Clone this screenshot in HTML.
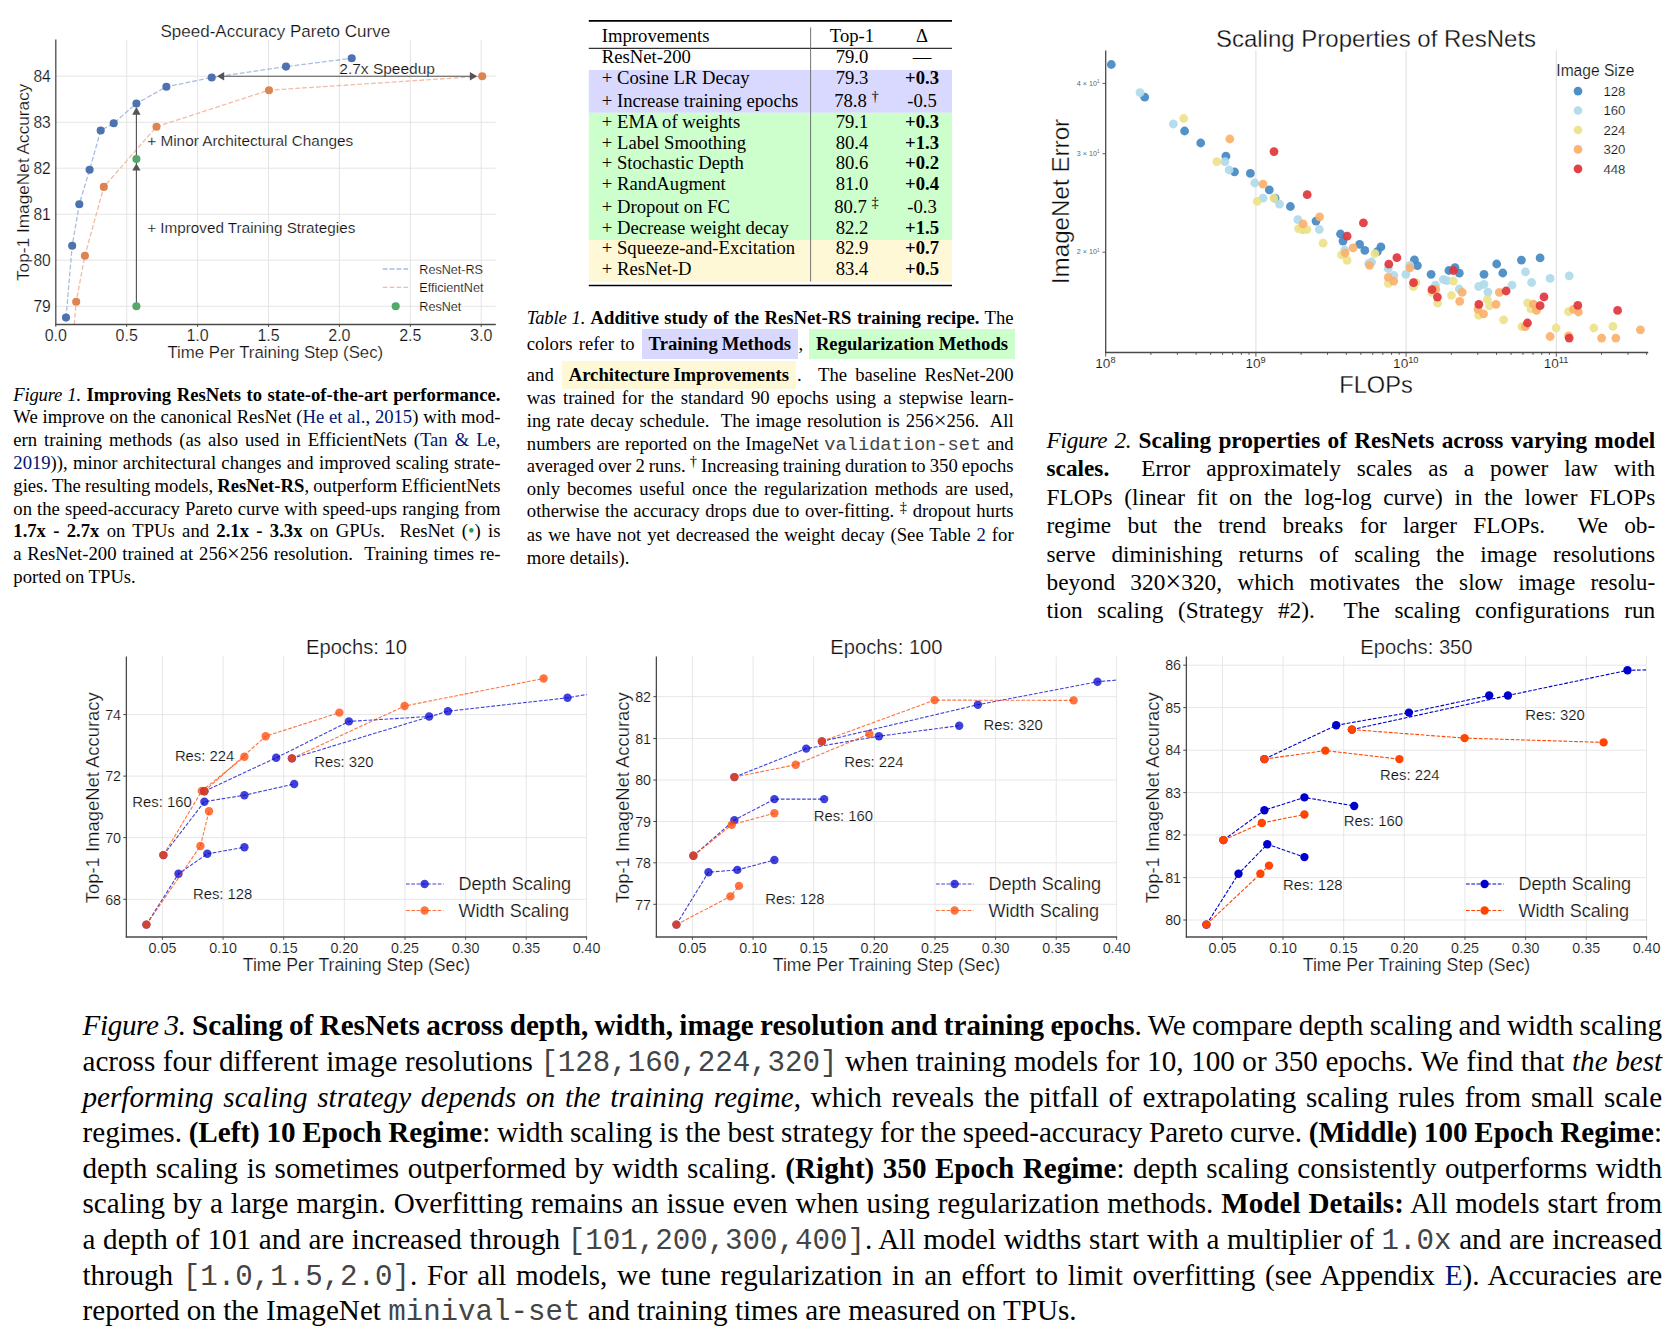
<!DOCTYPE html>
<html><head><meta charset="utf-8"><title>ResNet-RS figures</title>
<style>
html,body{margin:0;padding:0;background:#fff;}
body{width:1678px;height:1334px;position:relative;overflow:hidden;font-family:"Liberation Serif",serif;color:#000;}
.l{position:absolute;white-space:nowrap;line-height:1em;height:1em;}
.a{color:#001473;}
.tt{font-family:"Liberation Mono",monospace;font-size:1.0em;color:#444;}
.sup{position:relative;top:-0.40em;font-size:0.78em;line-height:0;}
.hl{position:absolute;}
.x{font-size:1.22em;line-height:0;position:relative;top:0.04em;}
svg{position:absolute;left:0;top:0;}
svg text{font-family:"Liberation Sans",sans-serif;stroke:#fff;stroke-width:0.012em;}
i{font-style:italic;} i.lb{letter-spacing:-0.012em;} b{font-weight:bold;}
</style></head><body>
<svg width="1678" height="1334" viewBox="0 0 1678 1334">
<line x1="126.70" y1="39.50" x2="126.70" y2="324.50" stroke="#e4e4e4" stroke-width="1.00"/>
<line x1="197.60" y1="39.50" x2="197.60" y2="324.50" stroke="#e4e4e4" stroke-width="1.00"/>
<line x1="268.50" y1="39.50" x2="268.50" y2="324.50" stroke="#e4e4e4" stroke-width="1.00"/>
<line x1="339.40" y1="39.50" x2="339.40" y2="324.50" stroke="#e4e4e4" stroke-width="1.00"/>
<line x1="410.30" y1="39.50" x2="410.30" y2="324.50" stroke="#e4e4e4" stroke-width="1.00"/>
<line x1="481.20" y1="39.50" x2="481.20" y2="324.50" stroke="#e4e4e4" stroke-width="1.00"/>
<line x1="55.80" y1="306.20" x2="495.80" y2="306.20" stroke="#e4e4e4" stroke-width="1.00"/>
<line x1="55.80" y1="260.20" x2="495.80" y2="260.20" stroke="#e4e4e4" stroke-width="1.00"/>
<line x1="55.80" y1="214.20" x2="495.80" y2="214.20" stroke="#e4e4e4" stroke-width="1.00"/>
<line x1="55.80" y1="168.20" x2="495.80" y2="168.20" stroke="#e4e4e4" stroke-width="1.00"/>
<line x1="55.80" y1="122.20" x2="495.80" y2="122.20" stroke="#e4e4e4" stroke-width="1.00"/>
<line x1="55.80" y1="76.20" x2="495.80" y2="76.20" stroke="#e4e4e4" stroke-width="1.00"/>
<polyline points="66.0,317.6 72.2,245.7 79.3,204.2 89.6,169.8 100.7,130.5 113.7,123.3 136.4,103.5 166.4,86.8 211.7,77.5 286.0,66.6 351.7,58.3" fill="none" stroke="#a9bde0" stroke-width="1.30" stroke-dasharray="4.8 2.1"/>
<polyline points="74.2,324.5 76.2,301.8 84.9,255.7 103.8,186.9 156.5,126.7 269.0,90.2 482.2,76.2" fill="none" stroke="#f2bda4" stroke-width="1.30" stroke-dasharray="4.8 2.1"/>
<line x1="136.40" y1="306.20" x2="136.40" y2="110.00" stroke="#555555" stroke-width="1.15"/>
<line x1="220.00" y1="76.20" x2="474.00" y2="76.20" stroke="#555555" stroke-width="1.15"/>
<path d="M136.4 107 L140.6 114.8 L132.2 114.8 Z" fill="#555555"/>
<path d="M136.4 163.4 L140.6 170.6 L132.2 170.6 Z" fill="#555555"/>
<path d="M216.9 76.2 L224.2 72 L224.2 80.4 Z" fill="#555555"/>
<path d="M477.2 76.2 L469.9 72 L469.9 80.4 Z" fill="#555555"/>
<circle cx="66.0" cy="317.6" r="4.05" fill="#4c72b0"/>
<circle cx="72.2" cy="245.7" r="4.05" fill="#4c72b0"/>
<circle cx="79.3" cy="204.2" r="4.05" fill="#4c72b0"/>
<circle cx="89.6" cy="169.8" r="4.05" fill="#4c72b0"/>
<circle cx="100.7" cy="130.5" r="4.05" fill="#4c72b0"/>
<circle cx="113.7" cy="123.3" r="4.05" fill="#4c72b0"/>
<circle cx="136.4" cy="103.5" r="4.05" fill="#4c72b0"/>
<circle cx="166.4" cy="86.8" r="4.05" fill="#4c72b0"/>
<circle cx="211.7" cy="77.5" r="4.05" fill="#4c72b0"/>
<circle cx="286.0" cy="66.6" r="4.05" fill="#4c72b0"/>
<circle cx="351.7" cy="58.3" r="4.05" fill="#4c72b0"/>
<circle cx="76.2" cy="301.8" r="4.05" fill="#dd8452"/>
<circle cx="84.9" cy="255.7" r="4.05" fill="#dd8452"/>
<circle cx="103.8" cy="186.9" r="4.05" fill="#dd8452"/>
<circle cx="156.5" cy="126.7" r="4.05" fill="#dd8452"/>
<circle cx="269.0" cy="90.2" r="4.05" fill="#dd8452"/>
<circle cx="482.2" cy="76.2" r="4.05" fill="#dd8452"/>
<circle cx="136.4" cy="159.0" r="4.05" fill="#55a868"/>
<circle cx="136.4" cy="306.2" r="4.05" fill="#55a868"/>
<line x1="55.80" y1="39.50" x2="55.80" y2="325.10" stroke="#4a4a4a" stroke-width="1.30"/>
<line x1="55.20" y1="324.50" x2="495.80" y2="324.50" stroke="#4a4a4a" stroke-width="1.30"/>
<text x="275.30" y="37.30" font-size="17.00" text-anchor="middle" fill="#101010">Speed-Accuracy Pareto Curve</text>
<text x="50.80" y="311.90" font-size="15.60" text-anchor="end" fill="#101010">79</text>
<text x="50.80" y="265.90" font-size="15.60" text-anchor="end" fill="#101010">80</text>
<text x="50.80" y="219.90" font-size="15.60" text-anchor="end" fill="#101010">81</text>
<text x="50.80" y="173.90" font-size="15.60" text-anchor="end" fill="#101010">82</text>
<text x="50.80" y="127.90" font-size="15.60" text-anchor="end" fill="#101010">83</text>
<text x="50.80" y="81.90" font-size="15.60" text-anchor="end" fill="#101010">84</text>
<text x="55.80" y="341.30" font-size="16.00" text-anchor="middle" fill="#101010">0.0</text>
<line x1="55.80" y1="324.50" x2="55.80" y2="326.90" stroke="#4a4a4a" stroke-width="1.00"/>
<text x="126.70" y="341.30" font-size="16.00" text-anchor="middle" fill="#101010">0.5</text>
<line x1="126.70" y1="324.50" x2="126.70" y2="326.90" stroke="#4a4a4a" stroke-width="1.00"/>
<text x="197.60" y="341.30" font-size="16.00" text-anchor="middle" fill="#101010">1.0</text>
<line x1="197.60" y1="324.50" x2="197.60" y2="326.90" stroke="#4a4a4a" stroke-width="1.00"/>
<text x="268.50" y="341.30" font-size="16.00" text-anchor="middle" fill="#101010">1.5</text>
<line x1="268.50" y1="324.50" x2="268.50" y2="326.90" stroke="#4a4a4a" stroke-width="1.00"/>
<text x="339.40" y="341.30" font-size="16.00" text-anchor="middle" fill="#101010">2.0</text>
<line x1="339.40" y1="324.50" x2="339.40" y2="326.90" stroke="#4a4a4a" stroke-width="1.00"/>
<text x="410.30" y="341.30" font-size="16.00" text-anchor="middle" fill="#101010">2.5</text>
<line x1="410.30" y1="324.50" x2="410.30" y2="326.90" stroke="#4a4a4a" stroke-width="1.00"/>
<text x="481.20" y="341.30" font-size="16.00" text-anchor="middle" fill="#101010">3.0</text>
<line x1="481.20" y1="324.50" x2="481.20" y2="326.90" stroke="#4a4a4a" stroke-width="1.00"/>
<text x="275.30" y="357.60" font-size="16.80" text-anchor="middle" fill="#101010">Time Per Training Step (Sec)</text>
<text transform="translate(28.60,182.30) rotate(-90)" font-size="17.25" text-anchor="middle" fill="#101010">Top-1 ImageNet Accuracy</text>
<text x="339.30" y="73.50" font-size="15.50" text-anchor="start" fill="#101010">2.7x Speedup</text>
<text x="147.20" y="145.60" font-size="15.35" text-anchor="start" fill="#101010">+ Minor Architectural Changes</text>
<text x="147.20" y="233.40" font-size="15.25" text-anchor="start" fill="#101010">+ Improved Training Strategies</text>
<line x1="382.70" y1="269.00" x2="408.40" y2="269.00" stroke="#a9bde0" stroke-width="1.30" stroke-dasharray="4.8 2.1"/>
<line x1="382.70" y1="287.30" x2="408.40" y2="287.30" stroke="#f2bda4" stroke-width="1.30" stroke-dasharray="4.8 2.1"/>
<circle cx="395.7" cy="306.2" r="4.05" fill="#55a868"/>
<text x="419.30" y="273.80" font-size="12.60" text-anchor="start" fill="#101010">ResNet-RS</text>
<text x="419.30" y="292.20" font-size="12.60" text-anchor="start" fill="#101010">EfficientNet</text>
<text x="419.30" y="311.00" font-size="12.60" text-anchor="start" fill="#101010">ResNet</text>
<rect x="588.8" y="70" width="363.2" height="42.8" fill="#d9d9ff"/>
<rect x="588.8" y="112.8" width="363.2" height="127.2" fill="#ccffcc"/>
<rect x="588.8" y="240" width="363.2" height="41.8" fill="#fff8d6"/>
<line x1="588.80" y1="20.80" x2="952.00" y2="20.80" stroke="#000" stroke-width="1.70"/>
<line x1="588.80" y1="48.30" x2="952.00" y2="48.30" stroke="#000" stroke-width="1.00"/>
<line x1="588.80" y1="285.50" x2="952.00" y2="285.50" stroke="#000" stroke-width="1.70"/>
<line x1="810.60" y1="27.50" x2="810.60" y2="281.50" stroke="#666" stroke-width="0.90"/>
<line x1="1255.90" y1="50.50" x2="1255.90" y2="352.50" stroke="#e0e0e0" stroke-width="1.10"/>
<line x1="1406.10" y1="50.50" x2="1406.10" y2="352.50" stroke="#e0e0e0" stroke-width="1.10"/>
<line x1="1556.30" y1="50.50" x2="1556.30" y2="352.50" stroke="#e0e0e0" stroke-width="1.10"/>
<circle cx="1111.3" cy="64.5" r="4.40" fill="#4489c3" fill-opacity="0.92"/>
<circle cx="1144.7" cy="97.2" r="4.40" fill="#4489c3" fill-opacity="0.92"/>
<circle cx="1184.6" cy="131.0" r="4.40" fill="#4489c3" fill-opacity="0.92"/>
<circle cx="1200.7" cy="143.0" r="4.40" fill="#4489c3" fill-opacity="0.92"/>
<circle cx="1225.9" cy="156.2" r="4.40" fill="#4489c3" fill-opacity="0.92"/>
<circle cx="1234.5" cy="171.8" r="4.40" fill="#4489c3" fill-opacity="0.92"/>
<circle cx="1250.4" cy="173.4" r="4.40" fill="#4489c3" fill-opacity="0.92"/>
<circle cx="1269.3" cy="189.8" r="4.40" fill="#4489c3" fill-opacity="0.92"/>
<circle cx="1275.0" cy="198.2" r="4.40" fill="#4489c3" fill-opacity="0.92"/>
<circle cx="1290.4" cy="206.5" r="4.40" fill="#4489c3" fill-opacity="0.92"/>
<circle cx="1316.0" cy="221.1" r="4.40" fill="#4489c3" fill-opacity="0.92"/>
<circle cx="1340.5" cy="234.0" r="4.40" fill="#4489c3" fill-opacity="0.92"/>
<circle cx="1343.0" cy="241.1" r="4.40" fill="#4489c3" fill-opacity="0.92"/>
<circle cx="1359.6" cy="244.4" r="4.40" fill="#4489c3" fill-opacity="0.92"/>
<circle cx="1364.8" cy="250.4" r="4.40" fill="#4489c3" fill-opacity="0.92"/>
<circle cx="1380.9" cy="246.9" r="4.40" fill="#4489c3" fill-opacity="0.92"/>
<circle cx="1377.4" cy="251.6" r="4.40" fill="#4489c3" fill-opacity="0.92"/>
<circle cx="1414.4" cy="259.9" r="4.40" fill="#4489c3" fill-opacity="0.92"/>
<circle cx="1417.4" cy="265.6" r="4.40" fill="#4489c3" fill-opacity="0.92"/>
<circle cx="1431.1" cy="274.3" r="4.40" fill="#4489c3" fill-opacity="0.92"/>
<circle cx="1448.9" cy="270.5" r="4.40" fill="#4489c3" fill-opacity="0.92"/>
<circle cx="1455.0" cy="267.6" r="4.40" fill="#4489c3" fill-opacity="0.92"/>
<circle cx="1459.3" cy="273.2" r="4.40" fill="#4489c3" fill-opacity="0.92"/>
<circle cx="1484.0" cy="274.3" r="4.40" fill="#4489c3" fill-opacity="0.92"/>
<circle cx="1496.7" cy="264.0" r="4.40" fill="#4489c3" fill-opacity="0.92"/>
<circle cx="1502.8" cy="273.0" r="4.40" fill="#4489c3" fill-opacity="0.92"/>
<circle cx="1521.4" cy="260.1" r="4.40" fill="#4489c3" fill-opacity="0.92"/>
<circle cx="1540.1" cy="257.9" r="4.40" fill="#4489c3" fill-opacity="0.92"/>
<circle cx="1140.0" cy="92.6" r="4.40" fill="#b0daea" fill-opacity="0.92"/>
<circle cx="1173.3" cy="124.0" r="4.40" fill="#b0daea" fill-opacity="0.92"/>
<circle cx="1225.0" cy="161.6" r="4.40" fill="#b0daea" fill-opacity="0.92"/>
<circle cx="1229.1" cy="170.0" r="4.40" fill="#b0daea" fill-opacity="0.92"/>
<circle cx="1254.8" cy="183.0" r="4.40" fill="#b0daea" fill-opacity="0.92"/>
<circle cx="1263.0" cy="198.2" r="4.40" fill="#b0daea" fill-opacity="0.92"/>
<circle cx="1279.5" cy="204.1" r="4.40" fill="#b0daea" fill-opacity="0.92"/>
<circle cx="1297.9" cy="219.7" r="4.40" fill="#b0daea" fill-opacity="0.92"/>
<circle cx="1319.3" cy="229.5" r="4.40" fill="#b0daea" fill-opacity="0.92"/>
<circle cx="1302.5" cy="229.7" r="4.40" fill="#b0daea" fill-opacity="0.92"/>
<circle cx="1344.7" cy="250.0" r="4.40" fill="#b0daea" fill-opacity="0.92"/>
<circle cx="1371.6" cy="262.0" r="4.40" fill="#b0daea" fill-opacity="0.92"/>
<circle cx="1368.7" cy="263.5" r="4.40" fill="#b0daea" fill-opacity="0.92"/>
<circle cx="1388.3" cy="268.7" r="4.40" fill="#b0daea" fill-opacity="0.92"/>
<circle cx="1393.9" cy="275.5" r="4.40" fill="#b0daea" fill-opacity="0.92"/>
<circle cx="1405.9" cy="274.3" r="4.40" fill="#b0daea" fill-opacity="0.92"/>
<circle cx="1409.7" cy="265.3" r="4.40" fill="#b0daea" fill-opacity="0.92"/>
<circle cx="1435.4" cy="285.2" r="4.40" fill="#b0daea" fill-opacity="0.92"/>
<circle cx="1443.3" cy="279.5" r="4.40" fill="#b0daea" fill-opacity="0.92"/>
<circle cx="1446.9" cy="280.6" r="4.40" fill="#b0daea" fill-opacity="0.92"/>
<circle cx="1459.3" cy="289.0" r="4.40" fill="#b0daea" fill-opacity="0.92"/>
<circle cx="1478.6" cy="286.5" r="4.40" fill="#b0daea" fill-opacity="0.92"/>
<circle cx="1484.0" cy="284.3" r="4.40" fill="#b0daea" fill-opacity="0.92"/>
<circle cx="1487.9" cy="292.1" r="4.40" fill="#b0daea" fill-opacity="0.92"/>
<circle cx="1512.0" cy="285.2" r="4.40" fill="#b0daea" fill-opacity="0.92"/>
<circle cx="1525.5" cy="271.9" r="4.40" fill="#b0daea" fill-opacity="0.92"/>
<circle cx="1531.6" cy="282.5" r="4.40" fill="#b0daea" fill-opacity="0.92"/>
<circle cx="1550.1" cy="278.4" r="4.40" fill="#b0daea" fill-opacity="0.92"/>
<circle cx="1569.2" cy="275.9" r="4.40" fill="#b0daea" fill-opacity="0.92"/>
<circle cx="1183.7" cy="118.5" r="4.40" fill="#ece38b" fill-opacity="0.92"/>
<circle cx="1216.9" cy="161.6" r="4.40" fill="#ece38b" fill-opacity="0.92"/>
<circle cx="1257.2" cy="201.4" r="4.40" fill="#ece38b" fill-opacity="0.92"/>
<circle cx="1273.8" cy="198.2" r="4.40" fill="#ece38b" fill-opacity="0.92"/>
<circle cx="1298.6" cy="228.6" r="4.40" fill="#ece38b" fill-opacity="0.92"/>
<circle cx="1306.9" cy="229.6" r="4.40" fill="#ece38b" fill-opacity="0.92"/>
<circle cx="1301.8" cy="228.8" r="4.40" fill="#ece38b" fill-opacity="0.92"/>
<circle cx="1323.1" cy="243.2" r="4.40" fill="#ece38b" fill-opacity="0.92"/>
<circle cx="1341.5" cy="254.9" r="4.40" fill="#ece38b" fill-opacity="0.92"/>
<circle cx="1347.1" cy="260.4" r="4.40" fill="#ece38b" fill-opacity="0.92"/>
<circle cx="1374.8" cy="253.6" r="4.40" fill="#ece38b" fill-opacity="0.92"/>
<circle cx="1388.3" cy="283.4" r="4.40" fill="#ece38b" fill-opacity="0.92"/>
<circle cx="1413.3" cy="286.7" r="4.40" fill="#ece38b" fill-opacity="0.92"/>
<circle cx="1416.0" cy="282.7" r="4.40" fill="#ece38b" fill-opacity="0.92"/>
<circle cx="1431.8" cy="292.4" r="4.40" fill="#ece38b" fill-opacity="0.92"/>
<circle cx="1437.6" cy="303.2" r="4.40" fill="#ece38b" fill-opacity="0.92"/>
<circle cx="1451.4" cy="295.5" r="4.40" fill="#ece38b" fill-opacity="0.92"/>
<circle cx="1453.4" cy="281.1" r="4.40" fill="#ece38b" fill-opacity="0.92"/>
<circle cx="1487.4" cy="299.6" r="4.40" fill="#ece38b" fill-opacity="0.92"/>
<circle cx="1489.5" cy="305.9" r="4.40" fill="#ece38b" fill-opacity="0.92"/>
<circle cx="1478.6" cy="315.3" r="4.40" fill="#ece38b" fill-opacity="0.92"/>
<circle cx="1503.6" cy="319.8" r="4.40" fill="#ece38b" fill-opacity="0.92"/>
<circle cx="1527.5" cy="303.0" r="4.40" fill="#ece38b" fill-opacity="0.92"/>
<circle cx="1530.9" cy="309.0" r="4.40" fill="#ece38b" fill-opacity="0.92"/>
<circle cx="1521.9" cy="326.6" r="4.40" fill="#ece38b" fill-opacity="0.92"/>
<circle cx="1556.1" cy="328.0" r="4.40" fill="#ece38b" fill-opacity="0.92"/>
<circle cx="1568.5" cy="311.7" r="4.40" fill="#ece38b" fill-opacity="0.92"/>
<circle cx="1593.8" cy="328.0" r="4.40" fill="#ece38b" fill-opacity="0.92"/>
<circle cx="1612.9" cy="326.4" r="4.40" fill="#ece38b" fill-opacity="0.92"/>
<circle cx="1229.8" cy="139.0" r="4.40" fill="#fbb06c" fill-opacity="0.92"/>
<circle cx="1263.0" cy="184.1" r="4.40" fill="#fbb06c" fill-opacity="0.92"/>
<circle cx="1319.6" cy="216.8" r="4.40" fill="#fbb06c" fill-opacity="0.92"/>
<circle cx="1303.1" cy="224.0" r="4.40" fill="#fbb06c" fill-opacity="0.92"/>
<circle cx="1353.1" cy="247.8" r="4.40" fill="#fbb06c" fill-opacity="0.92"/>
<circle cx="1345.1" cy="253.0" r="4.40" fill="#fbb06c" fill-opacity="0.92"/>
<circle cx="1369.6" cy="265.3" r="4.40" fill="#fbb06c" fill-opacity="0.92"/>
<circle cx="1409.9" cy="267.8" r="4.40" fill="#fbb06c" fill-opacity="0.92"/>
<circle cx="1388.3" cy="277.3" r="4.40" fill="#fbb06c" fill-opacity="0.92"/>
<circle cx="1393.7" cy="281.1" r="4.40" fill="#fbb06c" fill-opacity="0.92"/>
<circle cx="1435.8" cy="289.4" r="4.40" fill="#fbb06c" fill-opacity="0.92"/>
<circle cx="1462.2" cy="292.4" r="4.40" fill="#fbb06c" fill-opacity="0.92"/>
<circle cx="1459.7" cy="301.4" r="4.40" fill="#fbb06c" fill-opacity="0.92"/>
<circle cx="1499.4" cy="292.4" r="4.40" fill="#fbb06c" fill-opacity="0.92"/>
<circle cx="1496.0" cy="304.3" r="4.40" fill="#fbb06c" fill-opacity="0.92"/>
<circle cx="1478.0" cy="309.3" r="4.40" fill="#fbb06c" fill-opacity="0.92"/>
<circle cx="1483.6" cy="313.8" r="4.40" fill="#fbb06c" fill-opacity="0.92"/>
<circle cx="1533.4" cy="304.1" r="4.40" fill="#fbb06c" fill-opacity="0.92"/>
<circle cx="1536.5" cy="310.4" r="4.40" fill="#fbb06c" fill-opacity="0.92"/>
<circle cx="1525.3" cy="326.6" r="4.40" fill="#fbb06c" fill-opacity="0.92"/>
<circle cx="1550.1" cy="336.5" r="4.40" fill="#fbb06c" fill-opacity="0.92"/>
<circle cx="1568.5" cy="335.8" r="4.40" fill="#fbb06c" fill-opacity="0.92"/>
<circle cx="1573.5" cy="309.3" r="4.40" fill="#fbb06c" fill-opacity="0.92"/>
<circle cx="1578.4" cy="312.0" r="4.40" fill="#fbb06c" fill-opacity="0.92"/>
<circle cx="1601.6" cy="338.1" r="4.40" fill="#fbb06c" fill-opacity="0.92"/>
<circle cx="1615.8" cy="338.1" r="4.40" fill="#fbb06c" fill-opacity="0.92"/>
<circle cx="1640.4" cy="329.8" r="4.40" fill="#fbb06c" fill-opacity="0.92"/>
<circle cx="1274.0" cy="151.6" r="4.40" fill="#df363b" fill-opacity="0.92"/>
<circle cx="1307.2" cy="194.7" r="4.40" fill="#df363b" fill-opacity="0.92"/>
<circle cx="1363.4" cy="222.9" r="4.40" fill="#df363b" fill-opacity="0.92"/>
<circle cx="1347.1" cy="236.2" r="4.40" fill="#df363b" fill-opacity="0.92"/>
<circle cx="1396.9" cy="257.7" r="4.40" fill="#df363b" fill-opacity="0.92"/>
<circle cx="1388.8" cy="264.2" r="4.40" fill="#df363b" fill-opacity="0.92"/>
<circle cx="1453.4" cy="270.5" r="4.40" fill="#df363b" fill-opacity="0.92"/>
<circle cx="1413.5" cy="282.7" r="4.40" fill="#df363b" fill-opacity="0.92"/>
<circle cx="1432.0" cy="289.7" r="4.40" fill="#df363b" fill-opacity="0.92"/>
<circle cx="1437.4" cy="297.1" r="4.40" fill="#df363b" fill-opacity="0.92"/>
<circle cx="1506.1" cy="291.0" r="4.40" fill="#df363b" fill-opacity="0.92"/>
<circle cx="1478.9" cy="304.3" r="4.40" fill="#df363b" fill-opacity="0.92"/>
<circle cx="1544.0" cy="296.9" r="4.40" fill="#df363b" fill-opacity="0.92"/>
<circle cx="1540.1" cy="305.7" r="4.40" fill="#df363b" fill-opacity="0.92"/>
<circle cx="1527.5" cy="323.0" r="4.40" fill="#df363b" fill-opacity="0.92"/>
<circle cx="1577.8" cy="305.4" r="4.40" fill="#df363b" fill-opacity="0.92"/>
<circle cx="1617.6" cy="310.4" r="4.40" fill="#df363b" fill-opacity="0.92"/>
<circle cx="1569.2" cy="338.1" r="4.40" fill="#df363b" fill-opacity="0.92"/>
<line x1="1105.70" y1="50.50" x2="1105.70" y2="353.10" stroke="#4a4a4a" stroke-width="1.30"/>
<line x1="1105.10" y1="352.50" x2="1648.20" y2="352.50" stroke="#4a4a4a" stroke-width="1.30"/>
<line x1="1105.70" y1="352.50" x2="1105.70" y2="356.70" stroke="#4a4a4a" stroke-width="0.90"/>
<line x1="1150.91" y1="352.50" x2="1150.91" y2="354.90" stroke="#4a4a4a" stroke-width="0.90"/>
<line x1="1177.36" y1="352.50" x2="1177.36" y2="354.90" stroke="#4a4a4a" stroke-width="0.90"/>
<line x1="1196.13" y1="352.50" x2="1196.13" y2="354.90" stroke="#4a4a4a" stroke-width="0.90"/>
<line x1="1210.69" y1="352.50" x2="1210.69" y2="354.90" stroke="#4a4a4a" stroke-width="0.90"/>
<line x1="1222.58" y1="352.50" x2="1222.58" y2="354.90" stroke="#4a4a4a" stroke-width="0.90"/>
<line x1="1232.63" y1="352.50" x2="1232.63" y2="354.90" stroke="#4a4a4a" stroke-width="0.90"/>
<line x1="1241.34" y1="352.50" x2="1241.34" y2="354.90" stroke="#4a4a4a" stroke-width="0.90"/>
<line x1="1249.03" y1="352.50" x2="1249.03" y2="354.90" stroke="#4a4a4a" stroke-width="0.90"/>
<text x="1105.40" y="368.4" font-size="13.6" text-anchor="middle" fill="#101010">10<tspan dy="-5.5" font-size="9.2" style="stroke:none" fill="#333">8</tspan></text>
<line x1="1255.90" y1="352.50" x2="1255.90" y2="356.70" stroke="#4a4a4a" stroke-width="0.90"/>
<line x1="1301.11" y1="352.50" x2="1301.11" y2="354.90" stroke="#4a4a4a" stroke-width="0.90"/>
<line x1="1327.56" y1="352.50" x2="1327.56" y2="354.90" stroke="#4a4a4a" stroke-width="0.90"/>
<line x1="1346.33" y1="352.50" x2="1346.33" y2="354.90" stroke="#4a4a4a" stroke-width="0.90"/>
<line x1="1360.89" y1="352.50" x2="1360.89" y2="354.90" stroke="#4a4a4a" stroke-width="0.90"/>
<line x1="1372.78" y1="352.50" x2="1372.78" y2="354.90" stroke="#4a4a4a" stroke-width="0.90"/>
<line x1="1382.83" y1="352.50" x2="1382.83" y2="354.90" stroke="#4a4a4a" stroke-width="0.90"/>
<line x1="1391.54" y1="352.50" x2="1391.54" y2="354.90" stroke="#4a4a4a" stroke-width="0.90"/>
<line x1="1399.23" y1="352.50" x2="1399.23" y2="354.90" stroke="#4a4a4a" stroke-width="0.90"/>
<text x="1255.60" y="368.4" font-size="13.6" text-anchor="middle" fill="#101010">10<tspan dy="-5.5" font-size="9.2" style="stroke:none" fill="#333">9</tspan></text>
<line x1="1406.10" y1="352.50" x2="1406.10" y2="356.70" stroke="#4a4a4a" stroke-width="0.90"/>
<line x1="1451.31" y1="352.50" x2="1451.31" y2="354.90" stroke="#4a4a4a" stroke-width="0.90"/>
<line x1="1477.76" y1="352.50" x2="1477.76" y2="354.90" stroke="#4a4a4a" stroke-width="0.90"/>
<line x1="1496.53" y1="352.50" x2="1496.53" y2="354.90" stroke="#4a4a4a" stroke-width="0.90"/>
<line x1="1511.09" y1="352.50" x2="1511.09" y2="354.90" stroke="#4a4a4a" stroke-width="0.90"/>
<line x1="1522.98" y1="352.50" x2="1522.98" y2="354.90" stroke="#4a4a4a" stroke-width="0.90"/>
<line x1="1533.03" y1="352.50" x2="1533.03" y2="354.90" stroke="#4a4a4a" stroke-width="0.90"/>
<line x1="1541.74" y1="352.50" x2="1541.74" y2="354.90" stroke="#4a4a4a" stroke-width="0.90"/>
<line x1="1549.43" y1="352.50" x2="1549.43" y2="354.90" stroke="#4a4a4a" stroke-width="0.90"/>
<text x="1405.80" y="368.4" font-size="13.6" text-anchor="middle" fill="#101010">10<tspan dy="-5.5" font-size="9.2" style="stroke:none" fill="#333">10</tspan></text>
<line x1="1556.30" y1="352.50" x2="1556.30" y2="356.70" stroke="#4a4a4a" stroke-width="0.90"/>
<line x1="1601.51" y1="352.50" x2="1601.51" y2="354.90" stroke="#4a4a4a" stroke-width="0.90"/>
<line x1="1627.96" y1="352.50" x2="1627.96" y2="354.90" stroke="#4a4a4a" stroke-width="0.90"/>
<line x1="1646.73" y1="352.50" x2="1646.73" y2="354.90" stroke="#4a4a4a" stroke-width="0.90"/>
<text x="1556.00" y="368.4" font-size="13.6" text-anchor="middle" fill="#101010">10<tspan dy="-5.5" font-size="9.2" style="stroke:none" fill="#333">11</tspan></text>
<line x1="1102.50" y1="83.40" x2="1105.70" y2="83.40" stroke="#4a4a4a" stroke-width="0.90"/>
<text x="1099.6" y="85.60" font-size="7.2" text-anchor="end" style="stroke:none" fill="#666">4 &#215; 10<tspan dy="-2.6" font-size="4.6">1</tspan></text>
<line x1="1102.50" y1="153.70" x2="1105.70" y2="153.70" stroke="#4a4a4a" stroke-width="0.90"/>
<text x="1099.6" y="155.90" font-size="7.2" text-anchor="end" style="stroke:none" fill="#666">3 &#215; 10<tspan dy="-2.6" font-size="4.6">1</tspan></text>
<line x1="1102.50" y1="252.20" x2="1105.70" y2="252.20" stroke="#4a4a4a" stroke-width="0.90"/>
<text x="1099.6" y="254.40" font-size="7.2" text-anchor="end" style="stroke:none" fill="#666">2 &#215; 10<tspan dy="-2.6" font-size="4.6">1</tspan></text>
<text x="1376.00" y="47.00" font-size="24.00" text-anchor="middle" fill="#101010">Scaling Properties of ResNets</text>
<text x="1376.00" y="392.60" font-size="23.60" text-anchor="middle" fill="#101010">FLOPs</text>
<text transform="translate(1068.60,201.50) rotate(-90)" font-size="24.20" text-anchor="middle" fill="#101010">ImageNet Error</text>
<text x="1556.30" y="75.80" font-size="15.60" text-anchor="start" fill="#101010">Image Size</text>
<circle cx="1578.0" cy="91.1" r="4.35" fill="#4489c3" fill-opacity="0.95"/>
<text x="1603.40" y="95.90" font-size="13.20" text-anchor="start" fill="#101010">128</text>
<circle cx="1578.0" cy="110.5" r="4.35" fill="#b0daea" fill-opacity="0.95"/>
<text x="1603.40" y="115.33" font-size="13.20" text-anchor="start" fill="#101010">160</text>
<circle cx="1578.0" cy="130.0" r="4.35" fill="#ece38b" fill-opacity="0.95"/>
<text x="1603.40" y="134.76" font-size="13.20" text-anchor="start" fill="#101010">224</text>
<circle cx="1578.0" cy="149.4" r="4.35" fill="#fbb06c" fill-opacity="0.95"/>
<text x="1603.40" y="154.19" font-size="13.20" text-anchor="start" fill="#101010">320</text>
<circle cx="1578.0" cy="168.8" r="4.35" fill="#df363b" fill-opacity="0.95"/>
<text x="1603.40" y="173.62" font-size="13.20" text-anchor="start" fill="#101010">448</text>
<line x1="162.43" y1="656.51" x2="162.43" y2="937.01" stroke="#e4e4e4" stroke-width="0.90"/>
<line x1="223.06" y1="656.51" x2="223.06" y2="937.01" stroke="#e4e4e4" stroke-width="0.90"/>
<line x1="283.70" y1="656.51" x2="283.70" y2="937.01" stroke="#e4e4e4" stroke-width="0.90"/>
<line x1="344.34" y1="656.51" x2="344.34" y2="937.01" stroke="#e4e4e4" stroke-width="0.90"/>
<line x1="404.97" y1="656.51" x2="404.97" y2="937.01" stroke="#e4e4e4" stroke-width="0.90"/>
<line x1="465.61" y1="656.51" x2="465.61" y2="937.01" stroke="#e4e4e4" stroke-width="0.90"/>
<line x1="526.24" y1="656.51" x2="526.24" y2="937.01" stroke="#e4e4e4" stroke-width="0.90"/>
<line x1="586.55" y1="656.51" x2="586.55" y2="937.01" stroke="#e4e4e4" stroke-width="0.90"/>
<line x1="126.37" y1="714.59" x2="586.55" y2="714.59" stroke="#e4e4e4" stroke-width="0.90"/>
<line x1="126.37" y1="776.11" x2="586.55" y2="776.11" stroke="#e4e4e4" stroke-width="0.90"/>
<line x1="126.37" y1="837.60" x2="586.55" y2="837.60" stroke="#e4e4e4" stroke-width="0.90"/>
<line x1="126.37" y1="899.32" x2="586.55" y2="899.32" stroke="#e4e4e4" stroke-width="0.90"/>
<polyline points="146.4,924.6 178.5,873.8 207.3,853.8 244.4,847.3" fill="none" stroke="#0000cd" stroke-width="1.10" stroke-dasharray="3.7 1.6" stroke-opacity="0.75"/>
<circle cx="146.4" cy="924.6" r="4.20" fill="#0000cd" fill-opacity="0.75"/>
<circle cx="178.5" cy="873.8" r="4.20" fill="#0000cd" fill-opacity="0.75"/>
<circle cx="207.3" cy="853.8" r="4.20" fill="#0000cd" fill-opacity="0.75"/>
<circle cx="244.4" cy="847.3" r="4.20" fill="#0000cd" fill-opacity="0.75"/>
<polyline points="146.4,924.6 200.4,846.0 209.0,811.2" fill="none" stroke="#ff4500" stroke-width="1.10" stroke-dasharray="3.7 1.6" stroke-opacity="0.75"/>
<circle cx="146.4" cy="924.6" r="4.20" fill="#ff4500" fill-opacity="0.75"/>
<circle cx="200.4" cy="846.0" r="4.20" fill="#ff4500" fill-opacity="0.75"/>
<circle cx="209.0" cy="811.2" r="4.20" fill="#ff4500" fill-opacity="0.75"/>
<polyline points="163.4,855.1 204.4,801.7 244.4,795.2 294.2,784.0" fill="none" stroke="#0000cd" stroke-width="1.10" stroke-dasharray="3.7 1.6" stroke-opacity="0.75"/>
<circle cx="163.4" cy="855.1" r="4.20" fill="#0000cd" fill-opacity="0.75"/>
<circle cx="204.4" cy="801.7" r="4.20" fill="#0000cd" fill-opacity="0.75"/>
<circle cx="244.4" cy="795.2" r="4.20" fill="#0000cd" fill-opacity="0.75"/>
<circle cx="294.2" cy="784.0" r="4.20" fill="#0000cd" fill-opacity="0.75"/>
<polyline points="163.4,855.1 201.8,790.9 244.4,756.8" fill="none" stroke="#ff4500" stroke-width="1.10" stroke-dasharray="3.7 1.6" stroke-opacity="0.75"/>
<circle cx="163.4" cy="855.1" r="4.20" fill="#ff4500" fill-opacity="0.75"/>
<circle cx="201.8" cy="790.9" r="4.20" fill="#ff4500" fill-opacity="0.75"/>
<circle cx="244.4" cy="756.8" r="4.20" fill="#ff4500" fill-opacity="0.75"/>
<polyline points="204.4,791.2 276.2,757.8 348.9,721.4 429.2,716.5" fill="none" stroke="#0000cd" stroke-width="1.10" stroke-dasharray="3.7 1.6" stroke-opacity="0.75"/>
<circle cx="204.4" cy="791.2" r="4.20" fill="#0000cd" fill-opacity="0.75"/>
<circle cx="276.2" cy="757.8" r="4.20" fill="#0000cd" fill-opacity="0.75"/>
<circle cx="348.9" cy="721.4" r="4.20" fill="#0000cd" fill-opacity="0.75"/>
<circle cx="429.2" cy="716.5" r="4.20" fill="#0000cd" fill-opacity="0.75"/>
<polyline points="204.4,791.2 265.7,736.2 339.4,712.6" fill="none" stroke="#ff4500" stroke-width="1.10" stroke-dasharray="3.7 1.6" stroke-opacity="0.75"/>
<circle cx="204.4" cy="791.2" r="4.20" fill="#ff4500" fill-opacity="0.75"/>
<circle cx="265.7" cy="736.2" r="4.20" fill="#ff4500" fill-opacity="0.75"/>
<circle cx="339.4" cy="712.6" r="4.20" fill="#ff4500" fill-opacity="0.75"/>
<polyline points="291.9,758.4 447.9,711.2 567.5,697.8 586.6,694.5" fill="none" stroke="#0000cd" stroke-width="1.10" stroke-dasharray="3.7 1.6" stroke-opacity="0.75"/>
<circle cx="291.9" cy="758.4" r="4.20" fill="#0000cd" fill-opacity="0.75"/>
<circle cx="447.9" cy="711.2" r="4.20" fill="#0000cd" fill-opacity="0.75"/>
<circle cx="567.5" cy="697.8" r="4.20" fill="#0000cd" fill-opacity="0.75"/>
<polyline points="291.9,758.4 404.6,706.0 543.6,678.5" fill="none" stroke="#ff4500" stroke-width="1.10" stroke-dasharray="3.7 1.6" stroke-opacity="0.75"/>
<circle cx="291.9" cy="758.4" r="4.20" fill="#ff4500" fill-opacity="0.75"/>
<circle cx="404.6" cy="706.0" r="4.20" fill="#ff4500" fill-opacity="0.75"/>
<circle cx="543.6" cy="678.5" r="4.20" fill="#ff4500" fill-opacity="0.75"/>
<line x1="126.37" y1="656.51" x2="126.37" y2="937.61" stroke="#4a4a4a" stroke-width="1.30"/>
<line x1="125.77" y1="937.01" x2="587.15" y2="937.01" stroke="#4a4a4a" stroke-width="1.30"/>
<text x="356.46" y="653.72" font-size="20.20" text-anchor="middle" fill="#101010">Epochs: 10</text>
<text x="121.07" y="719.79" font-size="14.30" text-anchor="end" fill="#101010">74</text>
<line x1="123.27" y1="714.59" x2="126.37" y2="714.59" stroke="#4a4a4a" stroke-width="1.00"/>
<text x="121.07" y="781.31" font-size="14.30" text-anchor="end" fill="#101010">72</text>
<line x1="123.27" y1="776.11" x2="126.37" y2="776.11" stroke="#4a4a4a" stroke-width="1.00"/>
<text x="121.07" y="842.80" font-size="14.30" text-anchor="end" fill="#101010">70</text>
<line x1="123.27" y1="837.60" x2="126.37" y2="837.60" stroke="#4a4a4a" stroke-width="1.00"/>
<text x="121.07" y="904.52" font-size="14.30" text-anchor="end" fill="#101010">68</text>
<line x1="123.27" y1="899.32" x2="126.37" y2="899.32" stroke="#4a4a4a" stroke-width="1.00"/>
<text x="162.43" y="952.64" font-size="14.30" text-anchor="middle" fill="#101010">0.05</text>
<line x1="162.43" y1="937.01" x2="162.43" y2="939.81" stroke="#4a4a4a" stroke-width="1.00"/>
<text x="223.06" y="952.64" font-size="14.30" text-anchor="middle" fill="#101010">0.10</text>
<line x1="223.06" y1="937.01" x2="223.06" y2="939.81" stroke="#4a4a4a" stroke-width="1.00"/>
<text x="283.70" y="952.64" font-size="14.30" text-anchor="middle" fill="#101010">0.15</text>
<line x1="283.70" y1="937.01" x2="283.70" y2="939.81" stroke="#4a4a4a" stroke-width="1.00"/>
<text x="344.34" y="952.64" font-size="14.30" text-anchor="middle" fill="#101010">0.20</text>
<line x1="344.34" y1="937.01" x2="344.34" y2="939.81" stroke="#4a4a4a" stroke-width="1.00"/>
<text x="404.97" y="952.64" font-size="14.30" text-anchor="middle" fill="#101010">0.25</text>
<line x1="404.97" y1="937.01" x2="404.97" y2="939.81" stroke="#4a4a4a" stroke-width="1.00"/>
<text x="465.61" y="952.64" font-size="14.30" text-anchor="middle" fill="#101010">0.30</text>
<line x1="465.61" y1="937.01" x2="465.61" y2="939.81" stroke="#4a4a4a" stroke-width="1.00"/>
<text x="526.24" y="952.64" font-size="14.30" text-anchor="middle" fill="#101010">0.35</text>
<line x1="526.24" y1="937.01" x2="526.24" y2="939.81" stroke="#4a4a4a" stroke-width="1.00"/>
<text x="586.55" y="952.64" font-size="14.30" text-anchor="middle" fill="#101010">0.40</text>
<line x1="586.55" y1="937.01" x2="586.55" y2="939.81" stroke="#4a4a4a" stroke-width="1.00"/>
<text x="356.46" y="970.83" font-size="17.70" text-anchor="middle" fill="#101010">Time Per Training Step (Sec)</text>
<text transform="translate(98.68,797.77) rotate(-90)" font-size="18.45" text-anchor="middle" fill="#101010">Top-1 ImageNet Accuracy</text>
<text x="174.88" y="760.90" font-size="14.85" text-anchor="start" fill="#101010">Res: 224</text>
<text x="314.18" y="766.80" font-size="14.85" text-anchor="start" fill="#101010">Res: 320</text>
<text x="132.27" y="807.12" font-size="14.85" text-anchor="start" fill="#101010">Res: 160</text>
<text x="192.91" y="899.22" font-size="14.85" text-anchor="start" fill="#101010">Res: 128</text>
<line x1="405.96" y1="883.98" x2="443.65" y2="883.98" stroke="#0000cd" stroke-width="1.10" stroke-dasharray="3.7 1.6" stroke-opacity="0.75"/>
<circle cx="424.6" cy="884.0" r="4.20" fill="#0000cd" fill-opacity="0.75"/>
<text x="458.40" y="890.20" font-size="18.10" text-anchor="start" fill="#101010">Depth Scaling</text>
<line x1="405.96" y1="910.52" x2="443.65" y2="910.52" stroke="#ff4500" stroke-width="1.10" stroke-dasharray="3.7 1.6" stroke-opacity="0.75"/>
<circle cx="424.6" cy="910.5" r="4.20" fill="#ff4500" fill-opacity="0.75"/>
<text x="458.40" y="916.75" font-size="18.10" text-anchor="start" fill="#101010">Width Scaling</text>
<line x1="692.43" y1="656.51" x2="692.43" y2="937.01" stroke="#e4e4e4" stroke-width="0.90"/>
<line x1="753.06" y1="656.51" x2="753.06" y2="937.01" stroke="#e4e4e4" stroke-width="0.90"/>
<line x1="813.70" y1="656.51" x2="813.70" y2="937.01" stroke="#e4e4e4" stroke-width="0.90"/>
<line x1="874.34" y1="656.51" x2="874.34" y2="937.01" stroke="#e4e4e4" stroke-width="0.90"/>
<line x1="934.97" y1="656.51" x2="934.97" y2="937.01" stroke="#e4e4e4" stroke-width="0.90"/>
<line x1="995.61" y1="656.51" x2="995.61" y2="937.01" stroke="#e4e4e4" stroke-width="0.90"/>
<line x1="1056.24" y1="656.51" x2="1056.24" y2="937.01" stroke="#e4e4e4" stroke-width="0.90"/>
<line x1="1116.55" y1="656.51" x2="1116.55" y2="937.01" stroke="#e4e4e4" stroke-width="0.90"/>
<line x1="656.37" y1="696.69" x2="1116.55" y2="696.69" stroke="#e4e4e4" stroke-width="0.90"/>
<line x1="656.37" y1="738.52" x2="1116.55" y2="738.52" stroke="#e4e4e4" stroke-width="0.90"/>
<line x1="656.37" y1="780.01" x2="1116.55" y2="780.01" stroke="#e4e4e4" stroke-width="0.90"/>
<line x1="656.37" y1="821.50" x2="1116.55" y2="821.50" stroke="#e4e4e4" stroke-width="0.90"/>
<line x1="656.37" y1="862.80" x2="1116.55" y2="862.80" stroke="#e4e4e4" stroke-width="0.90"/>
<line x1="656.37" y1="904.30" x2="1116.55" y2="904.30" stroke="#e4e4e4" stroke-width="0.90"/>
<polyline points="676.4,924.6 708.5,872.2 737.3,869.9 774.4,860.0" fill="none" stroke="#0000cd" stroke-width="1.10" stroke-dasharray="3.7 1.6" stroke-opacity="0.75"/>
<circle cx="676.4" cy="924.6" r="4.20" fill="#0000cd" fill-opacity="0.75"/>
<circle cx="708.5" cy="872.2" r="4.20" fill="#0000cd" fill-opacity="0.75"/>
<circle cx="737.3" cy="869.9" r="4.20" fill="#0000cd" fill-opacity="0.75"/>
<circle cx="774.4" cy="860.0" r="4.20" fill="#0000cd" fill-opacity="0.75"/>
<polyline points="676.4,924.6 730.4,896.4 739.0,885.9" fill="none" stroke="#ff4500" stroke-width="1.10" stroke-dasharray="3.7 1.6" stroke-opacity="0.75"/>
<circle cx="676.4" cy="924.6" r="4.20" fill="#ff4500" fill-opacity="0.75"/>
<circle cx="730.4" cy="896.4" r="4.20" fill="#ff4500" fill-opacity="0.75"/>
<circle cx="739.0" cy="885.9" r="4.20" fill="#ff4500" fill-opacity="0.75"/>
<polyline points="693.4,855.8 734.4,820.1 774.4,799.1 824.2,799.1" fill="none" stroke="#0000cd" stroke-width="1.10" stroke-dasharray="3.7 1.6" stroke-opacity="0.75"/>
<circle cx="693.4" cy="855.8" r="4.20" fill="#0000cd" fill-opacity="0.75"/>
<circle cx="734.4" cy="820.1" r="4.20" fill="#0000cd" fill-opacity="0.75"/>
<circle cx="774.4" cy="799.1" r="4.20" fill="#0000cd" fill-opacity="0.75"/>
<circle cx="824.2" cy="799.1" r="4.20" fill="#0000cd" fill-opacity="0.75"/>
<polyline points="693.4,855.8 731.8,824.7 774.4,813.2" fill="none" stroke="#ff4500" stroke-width="1.10" stroke-dasharray="3.7 1.6" stroke-opacity="0.75"/>
<circle cx="693.4" cy="855.8" r="4.20" fill="#ff4500" fill-opacity="0.75"/>
<circle cx="731.8" cy="824.7" r="4.20" fill="#ff4500" fill-opacity="0.75"/>
<circle cx="774.4" cy="813.2" r="4.20" fill="#ff4500" fill-opacity="0.75"/>
<polyline points="734.4,777.1 806.2,748.6 878.9,736.2 959.2,725.7" fill="none" stroke="#0000cd" stroke-width="1.10" stroke-dasharray="3.7 1.6" stroke-opacity="0.75"/>
<circle cx="734.4" cy="777.1" r="4.20" fill="#0000cd" fill-opacity="0.75"/>
<circle cx="806.2" cy="748.6" r="4.20" fill="#0000cd" fill-opacity="0.75"/>
<circle cx="878.9" cy="736.2" r="4.20" fill="#0000cd" fill-opacity="0.75"/>
<circle cx="959.2" cy="725.7" r="4.20" fill="#0000cd" fill-opacity="0.75"/>
<polyline points="734.4,777.1 795.7,764.7 869.4,733.9" fill="none" stroke="#ff4500" stroke-width="1.10" stroke-dasharray="3.7 1.6" stroke-opacity="0.75"/>
<circle cx="734.4" cy="777.1" r="4.20" fill="#ff4500" fill-opacity="0.75"/>
<circle cx="795.7" cy="764.7" r="4.20" fill="#ff4500" fill-opacity="0.75"/>
<circle cx="869.4" cy="733.9" r="4.20" fill="#ff4500" fill-opacity="0.75"/>
<polyline points="821.9,741.4 977.9,704.7 1097.5,681.7 1116.6,680.1" fill="none" stroke="#0000cd" stroke-width="1.10" stroke-dasharray="3.7 1.6" stroke-opacity="0.75"/>
<circle cx="821.9" cy="741.4" r="4.20" fill="#0000cd" fill-opacity="0.75"/>
<circle cx="977.9" cy="704.7" r="4.20" fill="#0000cd" fill-opacity="0.75"/>
<circle cx="1097.5" cy="681.7" r="4.20" fill="#0000cd" fill-opacity="0.75"/>
<polyline points="821.9,741.4 934.6,700.1 1073.6,700.4" fill="none" stroke="#ff4500" stroke-width="1.10" stroke-dasharray="3.7 1.6" stroke-opacity="0.75"/>
<circle cx="821.9" cy="741.4" r="4.20" fill="#ff4500" fill-opacity="0.75"/>
<circle cx="934.6" cy="700.1" r="4.20" fill="#ff4500" fill-opacity="0.75"/>
<circle cx="1073.6" cy="700.4" r="4.20" fill="#ff4500" fill-opacity="0.75"/>
<line x1="656.37" y1="656.51" x2="656.37" y2="937.61" stroke="#4a4a4a" stroke-width="1.30"/>
<line x1="655.77" y1="937.01" x2="1117.15" y2="937.01" stroke="#4a4a4a" stroke-width="1.30"/>
<text x="886.46" y="653.72" font-size="20.20" text-anchor="middle" fill="#101010">Epochs: 100</text>
<text x="651.07" y="701.89" font-size="14.30" text-anchor="end" fill="#101010">82</text>
<line x1="653.27" y1="696.69" x2="656.37" y2="696.69" stroke="#4a4a4a" stroke-width="1.00"/>
<text x="651.07" y="743.72" font-size="14.30" text-anchor="end" fill="#101010">81</text>
<line x1="653.27" y1="738.52" x2="656.37" y2="738.52" stroke="#4a4a4a" stroke-width="1.00"/>
<text x="651.07" y="785.21" font-size="14.30" text-anchor="end" fill="#101010">80</text>
<line x1="653.27" y1="780.01" x2="656.37" y2="780.01" stroke="#4a4a4a" stroke-width="1.00"/>
<text x="651.07" y="826.70" font-size="14.30" text-anchor="end" fill="#101010">79</text>
<line x1="653.27" y1="821.50" x2="656.37" y2="821.50" stroke="#4a4a4a" stroke-width="1.00"/>
<text x="651.07" y="868.00" font-size="14.30" text-anchor="end" fill="#101010">78</text>
<line x1="653.27" y1="862.80" x2="656.37" y2="862.80" stroke="#4a4a4a" stroke-width="1.00"/>
<text x="651.07" y="909.50" font-size="14.30" text-anchor="end" fill="#101010">77</text>
<line x1="653.27" y1="904.30" x2="656.37" y2="904.30" stroke="#4a4a4a" stroke-width="1.00"/>
<text x="692.43" y="952.64" font-size="14.30" text-anchor="middle" fill="#101010">0.05</text>
<line x1="692.43" y1="937.01" x2="692.43" y2="939.81" stroke="#4a4a4a" stroke-width="1.00"/>
<text x="753.06" y="952.64" font-size="14.30" text-anchor="middle" fill="#101010">0.10</text>
<line x1="753.06" y1="937.01" x2="753.06" y2="939.81" stroke="#4a4a4a" stroke-width="1.00"/>
<text x="813.70" y="952.64" font-size="14.30" text-anchor="middle" fill="#101010">0.15</text>
<line x1="813.70" y1="937.01" x2="813.70" y2="939.81" stroke="#4a4a4a" stroke-width="1.00"/>
<text x="874.34" y="952.64" font-size="14.30" text-anchor="middle" fill="#101010">0.20</text>
<line x1="874.34" y1="937.01" x2="874.34" y2="939.81" stroke="#4a4a4a" stroke-width="1.00"/>
<text x="934.97" y="952.64" font-size="14.30" text-anchor="middle" fill="#101010">0.25</text>
<line x1="934.97" y1="937.01" x2="934.97" y2="939.81" stroke="#4a4a4a" stroke-width="1.00"/>
<text x="995.61" y="952.64" font-size="14.30" text-anchor="middle" fill="#101010">0.30</text>
<line x1="995.61" y1="937.01" x2="995.61" y2="939.81" stroke="#4a4a4a" stroke-width="1.00"/>
<text x="1056.24" y="952.64" font-size="14.30" text-anchor="middle" fill="#101010">0.35</text>
<line x1="1056.24" y1="937.01" x2="1056.24" y2="939.81" stroke="#4a4a4a" stroke-width="1.00"/>
<text x="1116.55" y="952.64" font-size="14.30" text-anchor="middle" fill="#101010">0.40</text>
<line x1="1116.55" y1="937.01" x2="1116.55" y2="939.81" stroke="#4a4a4a" stroke-width="1.00"/>
<text x="886.46" y="970.83" font-size="17.70" text-anchor="middle" fill="#101010">Time Per Training Step (Sec)</text>
<text transform="translate(628.68,797.77) rotate(-90)" font-size="18.45" text-anchor="middle" fill="#101010">Top-1 ImageNet Accuracy</text>
<text x="983.48" y="729.76" font-size="14.85" text-anchor="start" fill="#101010">Res: 320</text>
<text x="844.18" y="766.80" font-size="14.85" text-anchor="start" fill="#101010">Res: 224</text>
<text x="813.70" y="820.88" font-size="14.85" text-anchor="start" fill="#101010">Res: 160</text>
<text x="765.19" y="903.81" font-size="14.85" text-anchor="start" fill="#101010">Res: 128</text>
<line x1="935.96" y1="883.98" x2="973.65" y2="883.98" stroke="#0000cd" stroke-width="1.10" stroke-dasharray="3.7 1.6" stroke-opacity="0.75"/>
<circle cx="954.6" cy="884.0" r="4.20" fill="#0000cd" fill-opacity="0.75"/>
<text x="988.40" y="890.20" font-size="18.10" text-anchor="start" fill="#101010">Depth Scaling</text>
<line x1="935.96" y1="910.52" x2="973.65" y2="910.52" stroke="#ff4500" stroke-width="1.10" stroke-dasharray="3.7 1.6" stroke-opacity="0.75"/>
<circle cx="954.6" cy="910.5" r="4.20" fill="#ff4500" fill-opacity="0.75"/>
<text x="988.40" y="916.75" font-size="18.10" text-anchor="start" fill="#101010">Width Scaling</text>
<line x1="1222.43" y1="656.51" x2="1222.43" y2="937.01" stroke="#e4e4e4" stroke-width="0.90"/>
<line x1="1283.06" y1="656.51" x2="1283.06" y2="937.01" stroke="#e4e4e4" stroke-width="0.90"/>
<line x1="1343.70" y1="656.51" x2="1343.70" y2="937.01" stroke="#e4e4e4" stroke-width="0.90"/>
<line x1="1404.34" y1="656.51" x2="1404.34" y2="937.01" stroke="#e4e4e4" stroke-width="0.90"/>
<line x1="1464.97" y1="656.51" x2="1464.97" y2="937.01" stroke="#e4e4e4" stroke-width="0.90"/>
<line x1="1525.61" y1="656.51" x2="1525.61" y2="937.01" stroke="#e4e4e4" stroke-width="0.90"/>
<line x1="1586.24" y1="656.51" x2="1586.24" y2="937.01" stroke="#e4e4e4" stroke-width="0.90"/>
<line x1="1646.55" y1="656.51" x2="1646.55" y2="937.01" stroke="#e4e4e4" stroke-width="0.90"/>
<line x1="1186.37" y1="665.20" x2="1646.55" y2="665.20" stroke="#e4e4e4" stroke-width="0.90"/>
<line x1="1186.37" y1="707.61" x2="1646.55" y2="707.61" stroke="#e4e4e4" stroke-width="0.90"/>
<line x1="1186.37" y1="750.22" x2="1646.55" y2="750.22" stroke="#e4e4e4" stroke-width="0.90"/>
<line x1="1186.37" y1="792.60" x2="1646.55" y2="792.60" stroke="#e4e4e4" stroke-width="0.90"/>
<line x1="1186.37" y1="835.01" x2="1646.55" y2="835.01" stroke="#e4e4e4" stroke-width="0.90"/>
<line x1="1186.37" y1="877.62" x2="1646.55" y2="877.62" stroke="#e4e4e4" stroke-width="0.90"/>
<line x1="1186.37" y1="920.00" x2="1646.55" y2="920.00" stroke="#e4e4e4" stroke-width="0.90"/>
<polyline points="1206.4,924.6 1238.5,873.8 1267.3,844.3 1304.4,857.1" fill="none" stroke="#0000cd" stroke-width="1.10" stroke-dasharray="3.7 1.6" stroke-opacity="1.00"/>
<circle cx="1206.4" cy="924.6" r="4.20" fill="#0000cd" fill-opacity="1.00"/>
<circle cx="1238.5" cy="873.8" r="4.20" fill="#0000cd" fill-opacity="1.00"/>
<circle cx="1267.3" cy="844.3" r="4.20" fill="#0000cd" fill-opacity="1.00"/>
<circle cx="1304.4" cy="857.1" r="4.20" fill="#0000cd" fill-opacity="1.00"/>
<polyline points="1206.4,924.6 1260.4,873.8 1269.0,865.6" fill="none" stroke="#ff4500" stroke-width="1.10" stroke-dasharray="3.7 1.6" stroke-opacity="1.00"/>
<circle cx="1206.4" cy="924.6" r="4.20" fill="#ff4500" fill-opacity="1.00"/>
<circle cx="1260.4" cy="873.8" r="4.20" fill="#ff4500" fill-opacity="1.00"/>
<circle cx="1269.0" cy="865.6" r="4.20" fill="#ff4500" fill-opacity="1.00"/>
<polyline points="1223.4,840.1 1264.4,810.2 1304.4,797.4 1354.2,806.0" fill="none" stroke="#0000cd" stroke-width="1.10" stroke-dasharray="3.7 1.6" stroke-opacity="1.00"/>
<circle cx="1223.4" cy="840.1" r="4.20" fill="#0000cd" fill-opacity="1.00"/>
<circle cx="1264.4" cy="810.2" r="4.20" fill="#0000cd" fill-opacity="1.00"/>
<circle cx="1304.4" cy="797.4" r="4.20" fill="#0000cd" fill-opacity="1.00"/>
<circle cx="1354.2" cy="806.0" r="4.20" fill="#0000cd" fill-opacity="1.00"/>
<polyline points="1223.4,840.1 1261.8,823.0 1304.4,814.5" fill="none" stroke="#ff4500" stroke-width="1.10" stroke-dasharray="3.7 1.6" stroke-opacity="1.00"/>
<circle cx="1223.4" cy="840.1" r="4.20" fill="#ff4500" fill-opacity="1.00"/>
<circle cx="1261.8" cy="823.0" r="4.20" fill="#ff4500" fill-opacity="1.00"/>
<circle cx="1304.4" cy="814.5" r="4.20" fill="#ff4500" fill-opacity="1.00"/>
<polyline points="1264.4,759.1 1336.2,725.3 1408.9,712.6 1489.2,695.5" fill="none" stroke="#0000cd" stroke-width="1.10" stroke-dasharray="3.7 1.6" stroke-opacity="1.00"/>
<circle cx="1264.4" cy="759.1" r="4.20" fill="#0000cd" fill-opacity="1.00"/>
<circle cx="1336.2" cy="725.3" r="4.20" fill="#0000cd" fill-opacity="1.00"/>
<circle cx="1408.9" cy="712.6" r="4.20" fill="#0000cd" fill-opacity="1.00"/>
<circle cx="1489.2" cy="695.5" r="4.20" fill="#0000cd" fill-opacity="1.00"/>
<polyline points="1264.4,759.1 1325.3,750.6 1399.4,759.1" fill="none" stroke="#ff4500" stroke-width="1.10" stroke-dasharray="3.7 1.6" stroke-opacity="1.00"/>
<circle cx="1264.4" cy="759.1" r="4.20" fill="#ff4500" fill-opacity="1.00"/>
<circle cx="1325.3" cy="750.6" r="4.20" fill="#ff4500" fill-opacity="1.00"/>
<circle cx="1399.4" cy="759.1" r="4.20" fill="#ff4500" fill-opacity="1.00"/>
<polyline points="1351.9,729.6 1507.9,695.5 1627.5,670.3 1646.6,669.9" fill="none" stroke="#0000cd" stroke-width="1.10" stroke-dasharray="3.7 1.6" stroke-opacity="1.00"/>
<circle cx="1351.9" cy="729.6" r="4.20" fill="#0000cd" fill-opacity="1.00"/>
<circle cx="1507.9" cy="695.5" r="4.20" fill="#0000cd" fill-opacity="1.00"/>
<circle cx="1627.5" cy="670.3" r="4.20" fill="#0000cd" fill-opacity="1.00"/>
<polyline points="1351.9,729.6 1464.6,738.1 1603.6,742.4" fill="none" stroke="#ff4500" stroke-width="1.10" stroke-dasharray="3.7 1.6" stroke-opacity="1.00"/>
<circle cx="1351.9" cy="729.6" r="4.20" fill="#ff4500" fill-opacity="1.00"/>
<circle cx="1464.6" cy="738.1" r="4.20" fill="#ff4500" fill-opacity="1.00"/>
<circle cx="1603.6" cy="742.4" r="4.20" fill="#ff4500" fill-opacity="1.00"/>
<line x1="1186.37" y1="656.51" x2="1186.37" y2="937.61" stroke="#4a4a4a" stroke-width="1.30"/>
<line x1="1185.77" y1="937.01" x2="1647.15" y2="937.01" stroke="#4a4a4a" stroke-width="1.30"/>
<text x="1416.46" y="653.72" font-size="20.20" text-anchor="middle" fill="#101010">Epochs: 350</text>
<text x="1181.07" y="670.40" font-size="14.30" text-anchor="end" fill="#101010">86</text>
<line x1="1183.27" y1="665.20" x2="1186.37" y2="665.20" stroke="#4a4a4a" stroke-width="1.00"/>
<text x="1181.07" y="712.81" font-size="14.30" text-anchor="end" fill="#101010">85</text>
<line x1="1183.27" y1="707.61" x2="1186.37" y2="707.61" stroke="#4a4a4a" stroke-width="1.00"/>
<text x="1181.07" y="755.42" font-size="14.30" text-anchor="end" fill="#101010">84</text>
<line x1="1183.27" y1="750.22" x2="1186.37" y2="750.22" stroke="#4a4a4a" stroke-width="1.00"/>
<text x="1181.07" y="797.80" font-size="14.30" text-anchor="end" fill="#101010">83</text>
<line x1="1183.27" y1="792.60" x2="1186.37" y2="792.60" stroke="#4a4a4a" stroke-width="1.00"/>
<text x="1181.07" y="840.21" font-size="14.30" text-anchor="end" fill="#101010">82</text>
<line x1="1183.27" y1="835.01" x2="1186.37" y2="835.01" stroke="#4a4a4a" stroke-width="1.00"/>
<text x="1181.07" y="882.82" font-size="14.30" text-anchor="end" fill="#101010">81</text>
<line x1="1183.27" y1="877.62" x2="1186.37" y2="877.62" stroke="#4a4a4a" stroke-width="1.00"/>
<text x="1181.07" y="925.20" font-size="14.30" text-anchor="end" fill="#101010">80</text>
<line x1="1183.27" y1="920.00" x2="1186.37" y2="920.00" stroke="#4a4a4a" stroke-width="1.00"/>
<text x="1222.43" y="952.64" font-size="14.30" text-anchor="middle" fill="#101010">0.05</text>
<line x1="1222.43" y1="937.01" x2="1222.43" y2="939.81" stroke="#4a4a4a" stroke-width="1.00"/>
<text x="1283.06" y="952.64" font-size="14.30" text-anchor="middle" fill="#101010">0.10</text>
<line x1="1283.06" y1="937.01" x2="1283.06" y2="939.81" stroke="#4a4a4a" stroke-width="1.00"/>
<text x="1343.70" y="952.64" font-size="14.30" text-anchor="middle" fill="#101010">0.15</text>
<line x1="1343.70" y1="937.01" x2="1343.70" y2="939.81" stroke="#4a4a4a" stroke-width="1.00"/>
<text x="1404.34" y="952.64" font-size="14.30" text-anchor="middle" fill="#101010">0.20</text>
<line x1="1404.34" y1="937.01" x2="1404.34" y2="939.81" stroke="#4a4a4a" stroke-width="1.00"/>
<text x="1464.97" y="952.64" font-size="14.30" text-anchor="middle" fill="#101010">0.25</text>
<line x1="1464.97" y1="937.01" x2="1464.97" y2="939.81" stroke="#4a4a4a" stroke-width="1.00"/>
<text x="1525.61" y="952.64" font-size="14.30" text-anchor="middle" fill="#101010">0.30</text>
<line x1="1525.61" y1="937.01" x2="1525.61" y2="939.81" stroke="#4a4a4a" stroke-width="1.00"/>
<text x="1586.24" y="952.64" font-size="14.30" text-anchor="middle" fill="#101010">0.35</text>
<line x1="1586.24" y1="937.01" x2="1586.24" y2="939.81" stroke="#4a4a4a" stroke-width="1.00"/>
<text x="1646.55" y="952.64" font-size="14.30" text-anchor="middle" fill="#101010">0.40</text>
<line x1="1646.55" y1="937.01" x2="1646.55" y2="939.81" stroke="#4a4a4a" stroke-width="1.00"/>
<text x="1416.46" y="970.83" font-size="17.70" text-anchor="middle" fill="#101010">Time Per Training Step (Sec)</text>
<text transform="translate(1158.68,797.77) rotate(-90)" font-size="18.45" text-anchor="middle" fill="#101010">Top-1 ImageNet Accuracy</text>
<text x="1525.28" y="719.93" font-size="14.85" text-anchor="start" fill="#101010">Res: 320</text>
<text x="1380.08" y="779.58" font-size="14.85" text-anchor="start" fill="#101010">Res: 224</text>
<text x="1343.70" y="826.13" font-size="14.85" text-anchor="start" fill="#101010">Res: 160</text>
<text x="1283.06" y="889.71" font-size="14.85" text-anchor="start" fill="#101010">Res: 128</text>
<line x1="1465.96" y1="883.98" x2="1503.65" y2="883.98" stroke="#0000cd" stroke-width="1.10" stroke-dasharray="3.7 1.6" stroke-opacity="1.00"/>
<circle cx="1484.6" cy="884.0" r="4.20" fill="#0000cd" fill-opacity="1.00"/>
<text x="1518.40" y="890.20" font-size="18.10" text-anchor="start" fill="#101010">Depth Scaling</text>
<line x1="1465.96" y1="910.52" x2="1503.65" y2="910.52" stroke="#ff4500" stroke-width="1.10" stroke-dasharray="3.7 1.6" stroke-opacity="1.00"/>
<circle cx="1484.6" cy="910.5" r="4.20" fill="#ff4500" fill-opacity="1.00"/>
<text x="1518.40" y="916.75" font-size="18.10" text-anchor="start" fill="#101010">Width Scaling</text>
</svg>
<div class="hl" style="left:641.8px;top:329px;width:156.2px;height:29.5px;background:#d9d9ff"></div>
<div class="hl" style="left:808.8px;top:329px;width:206.1px;height:29.5px;background:#ccffcc"></div>
<div class="hl" style="left:561.8px;top:360.7px;width:234px;height:28.8px;background:#fff8d6"></div>
<div class="l" style="left:812.0px;width:80px;text-align:center;top:27.47px;font-size:18.66px">Top-1</div>
<div class="l" style="left:892px;width:60px;text-align:center;top:27.47px;font-size:18.66px">&Delta;</div>
<div class="l" style="left:812.0px;width:80px;text-align:center;top:47.97px;font-size:18.66px">79.0</div>
<div class="l" style="left:892px;width:60px;text-align:center;top:47.97px;font-size:18.66px">&mdash;</div>
<div class="l" style="left:812.0px;width:80px;text-align:center;top:69.27px;font-size:18.66px">79.3</div>
<div class="l" style="left:892px;width:60px;text-align:center;top:69.27px;font-size:18.66px"><b>+0.3</b></div>
<div class="l" style="left:816.5px;width:80px;text-align:center;top:91.87px;font-size:18.66px">78.8 <span class="sup">&dagger;</span></div>
<div class="l" style="left:892px;width:60px;text-align:center;top:91.87px;font-size:18.66px">-0.5</div>
<div class="l" style="left:812.0px;width:80px;text-align:center;top:112.97px;font-size:18.66px">79.1</div>
<div class="l" style="left:892px;width:60px;text-align:center;top:112.97px;font-size:18.66px"><b>+0.3</b></div>
<div class="l" style="left:812.0px;width:80px;text-align:center;top:133.87px;font-size:18.66px">80.4</div>
<div class="l" style="left:892px;width:60px;text-align:center;top:133.87px;font-size:18.66px"><b>+1.3</b></div>
<div class="l" style="left:812.0px;width:80px;text-align:center;top:154.07px;font-size:18.66px">80.6</div>
<div class="l" style="left:892px;width:60px;text-align:center;top:154.07px;font-size:18.66px"><b>+0.2</b></div>
<div class="l" style="left:812.0px;width:80px;text-align:center;top:174.87px;font-size:18.66px">81.0</div>
<div class="l" style="left:892px;width:60px;text-align:center;top:174.87px;font-size:18.66px"><b>+0.4</b></div>
<div class="l" style="left:816.5px;width:80px;text-align:center;top:197.77px;font-size:18.66px">80.7 <span class="sup">&Dagger;</span></div>
<div class="l" style="left:892px;width:60px;text-align:center;top:197.77px;font-size:18.66px">-0.3</div>
<div class="l" style="left:812.0px;width:80px;text-align:center;top:218.97px;font-size:18.66px">82.2</div>
<div class="l" style="left:892px;width:60px;text-align:center;top:218.97px;font-size:18.66px"><b>+1.5</b></div>
<div class="l" style="left:812.0px;width:80px;text-align:center;top:239.37px;font-size:18.66px">82.9</div>
<div class="l" style="left:892px;width:60px;text-align:center;top:239.37px;font-size:18.66px"><b>+0.7</b></div>
<div class="l" style="left:812.0px;width:80px;text-align:center;top:260.17px;font-size:18.66px">83.4</div>
<div class="l" style="left:892px;width:60px;text-align:center;top:260.17px;font-size:18.66px"><b>+0.5</b></div>
<div class="l" style="left:13.30px;top:385.67px;font-size:18.66px;word-spacing:0.882px;"><i class="lb">Figure 1.</i> <b>Improving ResNets to state-of-the-art performance.</b></div>
<div class="l" style="left:13.30px;top:408.44px;font-size:18.66px;word-spacing:0.106px;">We improve on the canonical ResNet (<span class="a">He et al.</span>, <span class="a">2015</span>) with mod-</div>
<div class="l" style="left:13.30px;top:431.21px;font-size:18.66px;word-spacing:2.307px;">ern training methods (as also used in EfficientNets (<span class="a">Tan &amp; Le</span>,</div>
<div class="l" style="left:13.30px;top:453.98px;font-size:18.66px;word-spacing:0.627px;"><span class="a">2019</span>)), minor architectural changes and improved scaling strate-</div>
<div class="l" style="left:13.30px;top:476.75px;font-size:18.66px;word-spacing:-0.464px;">gies. The resulting models, <b>ResNet-RS</b>, outperform EfficientNets</div>
<div class="l" style="left:13.30px;top:499.52px;font-size:18.66px;word-spacing:0.420px;">on the speed-accuracy Pareto curve with speed-ups ranging from</div>
<div class="l" style="left:13.30px;top:522.29px;font-size:18.66px;word-spacing:2.633px;"><b>1.7x - 2.7x</b> on TPUs and <b>2.1x - 3.3x</b> on GPUs.&nbsp; ResNet (<span style="color:#1f9d55">&#8226;</span>) is</div>
<div class="l" style="left:13.30px;top:545.06px;font-size:18.66px;word-spacing:1.119px;">a ResNet-200 trained at 256<span class="x">&times;</span>256 resolution.&nbsp; Training times re-</div>
<div class="l" style="left:13.30px;top:567.83px;font-size:18.66px;">ported on TPUs.</div>
<div class="l" style="left:526.80px;top:309.07px;font-size:18.66px;word-spacing:0.716px;"><i class="lb">Table 1.</i> <b>Additive study of the ResNet-RS training recipe.</b> The</div>
<div class="l" style="left:526.80px;top:334.77px;font-size:18.66px;word-spacing:1.630px;">colors refer to</div>
<div class="l" style="left:648.60px;top:334.77px;font-size:18.66px;word-spacing:-0.734px;"><b>Training Methods</b></div>
<div class="l" style="left:798.60px;top:334.77px;font-size:18.66px;">,</div>
<div class="l" style="left:815.90px;top:334.77px;font-size:18.66px;word-spacing:-0.050px;"><b>Regularization Methods</b></div>
<div class="l" style="left:526.80px;top:365.77px;font-size:18.66px;">and</div>
<div class="l" style="left:568.70px;top:365.77px;font-size:18.66px;word-spacing:-0.934px;"><b>Architecture Improvements</b></div>
<div class="l" style="left:796.90px;top:365.77px;font-size:18.66px;">.</div>
<div class="l" style="left:818.10px;top:365.77px;font-size:18.66px;word-spacing:3.461px;">The baseline ResNet-200</div>
<div class="l" style="left:526.80px;top:388.67px;font-size:18.66px;word-spacing:2.468px;">was trained for the standard 90 epochs using a stepwise learn-</div>
<div class="l" style="left:526.80px;top:411.67px;font-size:18.66px;word-spacing:1.151px;">ing rate decay schedule.&nbsp; The image resolution is 256<span class="x">&times;</span>256.&nbsp; All</div>
<div class="l" style="left:526.80px;top:434.57px;font-size:18.66px;word-spacing:0.896px;">numbers are reported on the ImageNet <span class="tt">validation-set</span> and</div>
<div class="l" style="left:526.80px;top:456.87px;font-size:18.66px;word-spacing:-0.592px;">averaged over 2 runs. <span class="sup">&dagger;</span> Increasing training duration to 350 epochs</div>
<div class="l" style="left:526.80px;top:479.87px;font-size:18.66px;word-spacing:2.373px;">only becomes useful once the regularization methods are used,</div>
<div class="l" style="left:526.80px;top:502.47px;font-size:18.66px;word-spacing:0.936px;">otherwise the accuracy drops due to over-fitting. <span class="sup">&Dagger;</span> dropout hurts</div>
<div class="l" style="left:526.80px;top:525.67px;font-size:18.66px;word-spacing:1.335px;">as we have not yet decreased the weight decay (See Table <span class="a">2</span> for</div>
<div class="l" style="left:526.80px;top:548.57px;font-size:18.66px;">more details).</div>
<div class="l" style="left:1046.50px;top:428.98px;font-size:23.31px;word-spacing:1.474px;"><i class="lb">Figure 2.</i> <b>Scaling properties of ResNets across varying model</b></div>
<div class="l" style="left:1046.50px;top:457.36px;font-size:23.31px;word-spacing:10.128px;"><b>scales.</b>&nbsp; Error approximately scales as a power law with</div>
<div class="l" style="left:1046.50px;top:485.74px;font-size:23.31px;word-spacing:5.872px;">FLOPs (linear fit on the log-log curve) in the lower FLOPs</div>
<div class="l" style="left:1046.50px;top:514.12px;font-size:23.31px;word-spacing:10.486px;">regime but the trend breaks for larger FLOPs.&nbsp; We ob-</div>
<div class="l" style="left:1046.50px;top:542.50px;font-size:23.31px;word-spacing:9.962px;">serve diminishing returns of scaling the image resolutions</div>
<div class="l" style="left:1046.50px;top:570.88px;font-size:23.31px;word-spacing:9.426px;">beyond 320<span class="x">&times;</span>320, which motivates the slow image resolu-</div>
<div class="l" style="left:1046.50px;top:599.26px;font-size:23.31px;word-spacing:8.773px;">tion scaling (Strategy #2).&nbsp; The scaling configurations run</div>
<div class="l" style="left:82.50px;top:1011.40px;font-size:29.14px;word-spacing:-0.950px;"><i class="lb">Figure 3.</i> <b>Scaling of ResNets across depth, width, image resolution and training epochs</b>. We compare depth scaling and width scaling</div>
<div class="l" style="left:82.50px;top:1047.00px;font-size:29.14px;word-spacing:0.288px;">across four different image resolutions <span class="tt">[128,160,224,320]</span> when training models for 10, 100 or 350 epochs. We find that <i>the best</i></div>
<div class="l" style="left:82.50px;top:1082.60px;font-size:29.14px;word-spacing:2.482px;"><i>performing scaling strategy depends on the training regime</i>, which reveals the pitfall of extrapolating scaling rules from small scale</div>
<div class="l" style="left:82.50px;top:1118.20px;font-size:29.14px;word-spacing:-0.598px;">regimes. <b>(Left) 10 Epoch Regime</b>: width scaling is the best strategy for the speed-accuracy Pareto curve. <b>(Middle) 100 Epoch Regime</b>:</div>
<div class="l" style="left:82.50px;top:1153.80px;font-size:29.14px;word-spacing:1.200px;">depth scaling is sometimes outperformed by width scaling. <b>(Right) 350 Epoch Regime</b>: depth scaling consistently outperforms width</div>
<div class="l" style="left:82.50px;top:1189.40px;font-size:29.14px;word-spacing:0.648px;">scaling by a large margin. Overfitting remains an issue even when using regularization methods. <b>Model Details:</b> All models start from</div>
<div class="l" style="left:82.50px;top:1225.00px;font-size:29.14px;word-spacing:0.413px;">a depth of 101 and are increased through <span class="tt">[101,200,300,400]</span>. All model widths start with a multiplier of <span class="tt">1.0x</span> and are increased</div>
<div class="l" style="left:82.50px;top:1260.60px;font-size:29.14px;word-spacing:2.415px;">through <span class="tt">[1.0,1.5,2.0]</span>. For all models, we tune regularization in an effort to limit overfitting (see Appendix <span class="a">E</span>). Accuracies are</div>
<div class="l" style="left:82.50px;top:1296.20px;font-size:29.14px;">reported on the ImageNet <span class="tt">minival-set</span> and training times are measured on TPUs.</div>
<div class="l" style="left:601.80px;top:27.47px;font-size:18.66px;">Improvements</div>
<div class="l" style="left:601.80px;top:47.97px;font-size:18.66px;">ResNet-200</div>
<div class="l" style="left:601.80px;top:69.27px;font-size:18.66px;">+ Cosine LR Decay</div>
<div class="l" style="left:601.80px;top:91.87px;font-size:18.66px;">+ Increase training epochs</div>
<div class="l" style="left:601.80px;top:112.97px;font-size:18.66px;">+ EMA of weights</div>
<div class="l" style="left:601.80px;top:133.87px;font-size:18.66px;">+ Label Smoothing</div>
<div class="l" style="left:601.80px;top:154.07px;font-size:18.66px;">+ Stochastic Depth</div>
<div class="l" style="left:601.80px;top:174.87px;font-size:18.66px;">+ RandAugment</div>
<div class="l" style="left:601.80px;top:197.77px;font-size:18.66px;">+ Dropout on FC</div>
<div class="l" style="left:601.80px;top:218.97px;font-size:18.66px;">+ Decrease weight decay</div>
<div class="l" style="left:601.80px;top:239.37px;font-size:18.66px;">+ Squeeze-and-Excitation</div>
<div class="l" style="left:601.80px;top:260.17px;font-size:18.66px;">+ ResNet-D</div>
</body></html>
